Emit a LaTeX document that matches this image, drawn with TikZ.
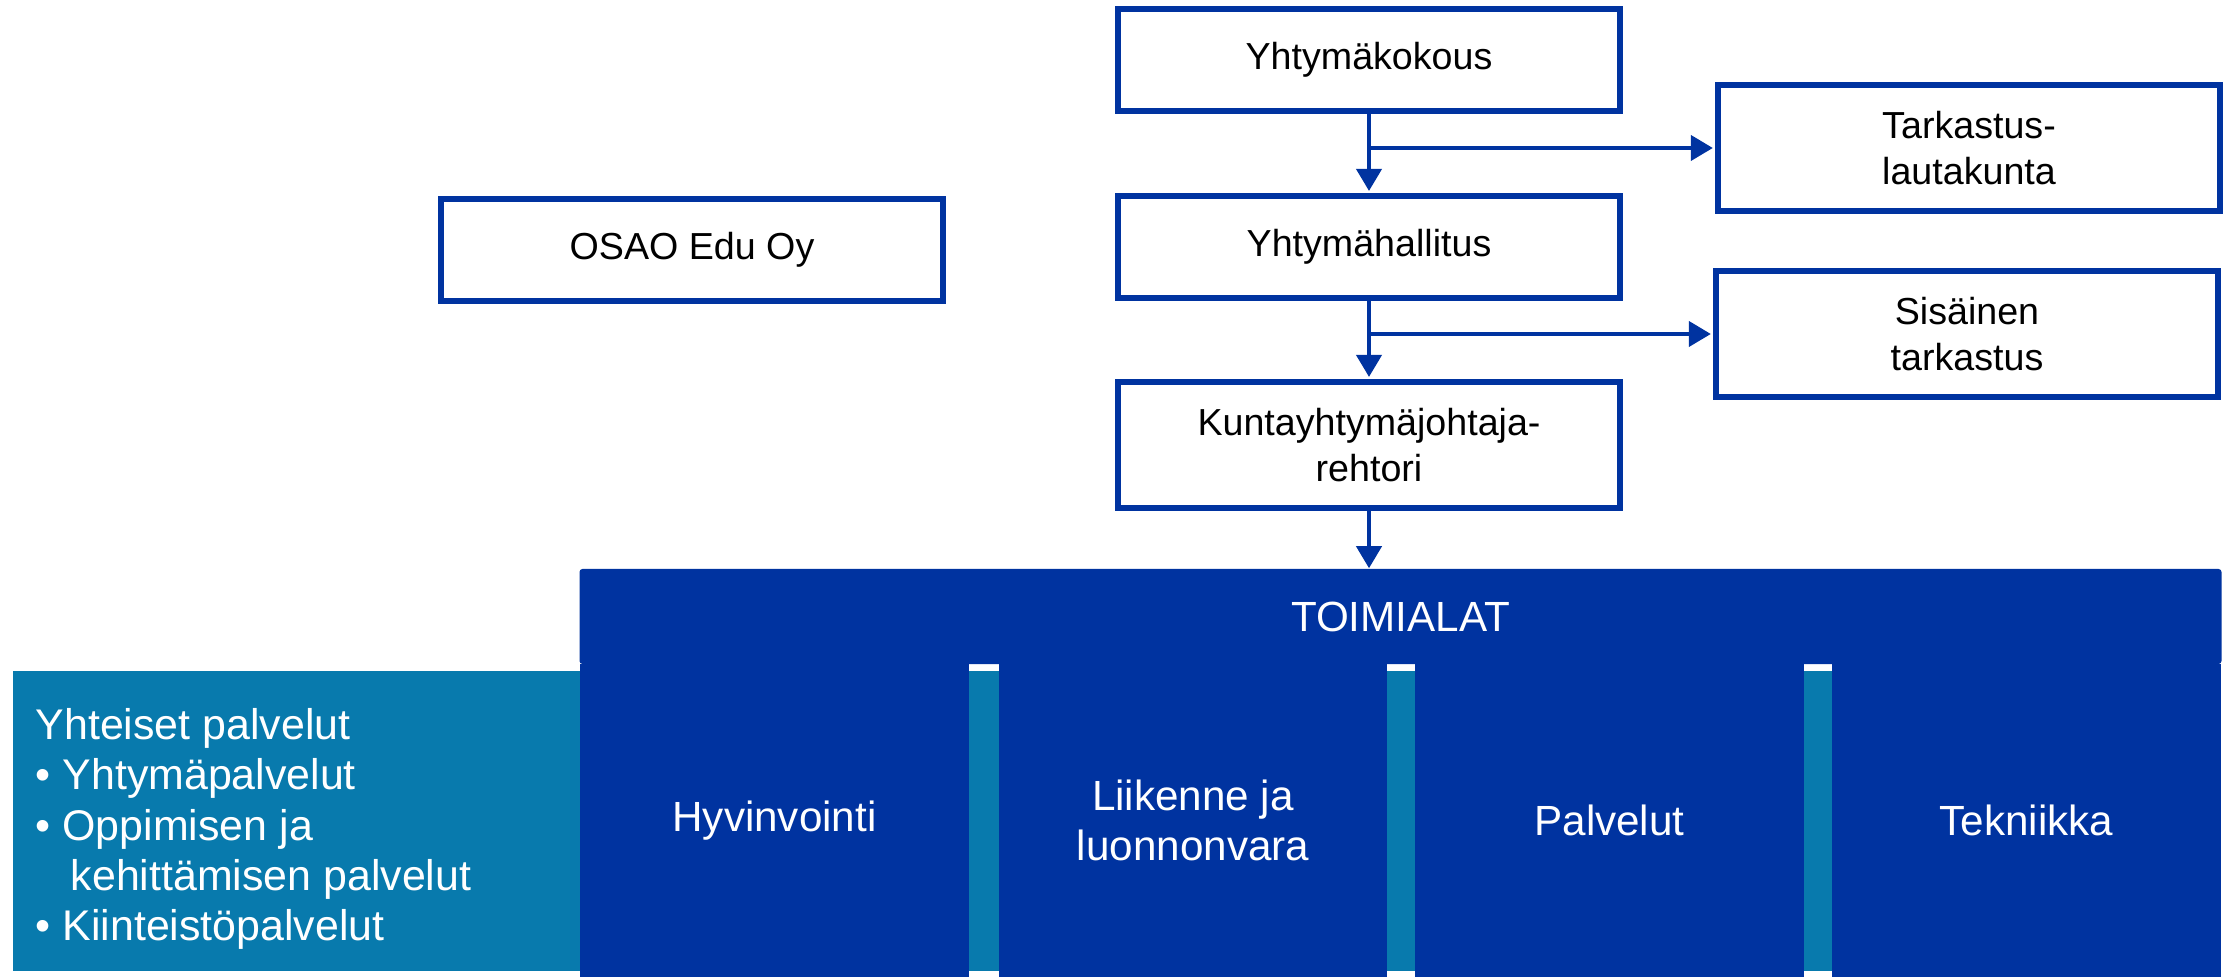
\documentclass[tikz,border=0pt]{standalone}
\usepackage{fontspec}
\setmainfont{Liberation Sans}
\usetikzlibrary{arrows.meta}
\definecolor{osaoblue}{RGB}{0,51,160}
\definecolor{osaoteal}{RGB}{8,122,173}
\tikzset{
    orgbox/.style={draw=osaoblue, line width=0.06cm, fill=white, inner sep=0pt,
        minimum width=5.02cm, align=center, font=\fontsize{10.7}{13}\selectfont},
    alabox/.style={fill=osaoblue, inner sep=0pt, text=white, align=center,
        font=\fontsize{12}{14.3}\selectfont},
    arr/.style={draw=osaoblue, line width=0.04cm, shorten >=0.02cm,
        -{Triangle[length=0.22cm,width=0.25cm]}},
}
\begin{document}
\begin{tikzpicture}[x=0.01cm,y=-0.01cm]
        \useasboundingbox (0,0) rectangle (2233,977);
        %% hallinto
        \node[orgbox, minimum height=1.02cm] (kokous) at (1369,60) {Yhtymäkokous};
        \node[orgbox, minimum height=1.02cm] (hallitus) at (1369,247) {Yhtymähallitus};
        \node[orgbox, minimum height=1.26cm] (kunta) at (1369,445) {Kuntayhtymäjohtaja-\\rehtori};
        \node[orgbox, minimum height=1.25cm] (tarkastus) at (1969,148) {Tarkastus-\\lautakunta};
        \node[orgbox, minimum height=1.26cm] (sisainen) at (1967,334) {Sisäinen\\tarkastus};
        \node[orgbox, minimum height=1.01cm] (edu) at (692,250) {OSAO Edu Oy};
        %% yhteiset palvelut
        \fill[osaoteal] (13,671) rectangle (2221,971);
        \node[anchor=west, inner sep=0pt, text=white, align=left,
            font=\fontsize{12.2}{14.3}\selectfont] (yhteiset) at (35,829)
            {Yhteiset palvelut\\
             \textbullet\ Yhtymäpalvelut\\
             \textbullet\ Oppimisen ja\\
             \hspace*{0.35cm}kehittämisen palvelut\\
             \textbullet\ Kiinteistöpalvelut};
        %% toimialat
        \node[alabox, rounded corners=0.03cm, minimum width=16.41cm, minimum height=0.95cm] (toimialat) at (1400.5,616.5) {TOIMIALAT};
        \node[alabox, minimum width=3.89cm, minimum height=3.13cm] (hyvinvointi) at (774.5,820.5) {Hyvinvointi};
        \node[alabox, minimum width=3.88cm, minimum height=3.13cm] (liikenne) at (1193,820.5) {Liikenne ja\\luonnonvara};
        \node[alabox, minimum width=3.89cm, minimum height=3.13cm] (palvelut) at (1609.5,820.5) {Palvelut};
        \node[alabox, minimum width=3.89cm, minimum height=3.13cm] (tekniikka) at (2026.5,820.5) {Tekniikka};
        %% nuolet
        \coordinate (haara1) at (kokous.south |- tarkastus.west);
        \coordinate (haara2) at (hallitus.south |- sisainen.west);
        \coordinate (ylaosa) at (kunta.south |- toimialat.north);
        \draw[arr] (kokous) -- (hallitus);
        \draw[arr] (hallitus) -- (kunta);
        \draw[arr] (haara1) -- (tarkastus.west);
        \draw[arr] (haara2) -- (sisainen.west);
        \draw[arr, shorten >=0pt] (kunta) -- (ylaosa);
    \end{tikzpicture}
\end{document}
